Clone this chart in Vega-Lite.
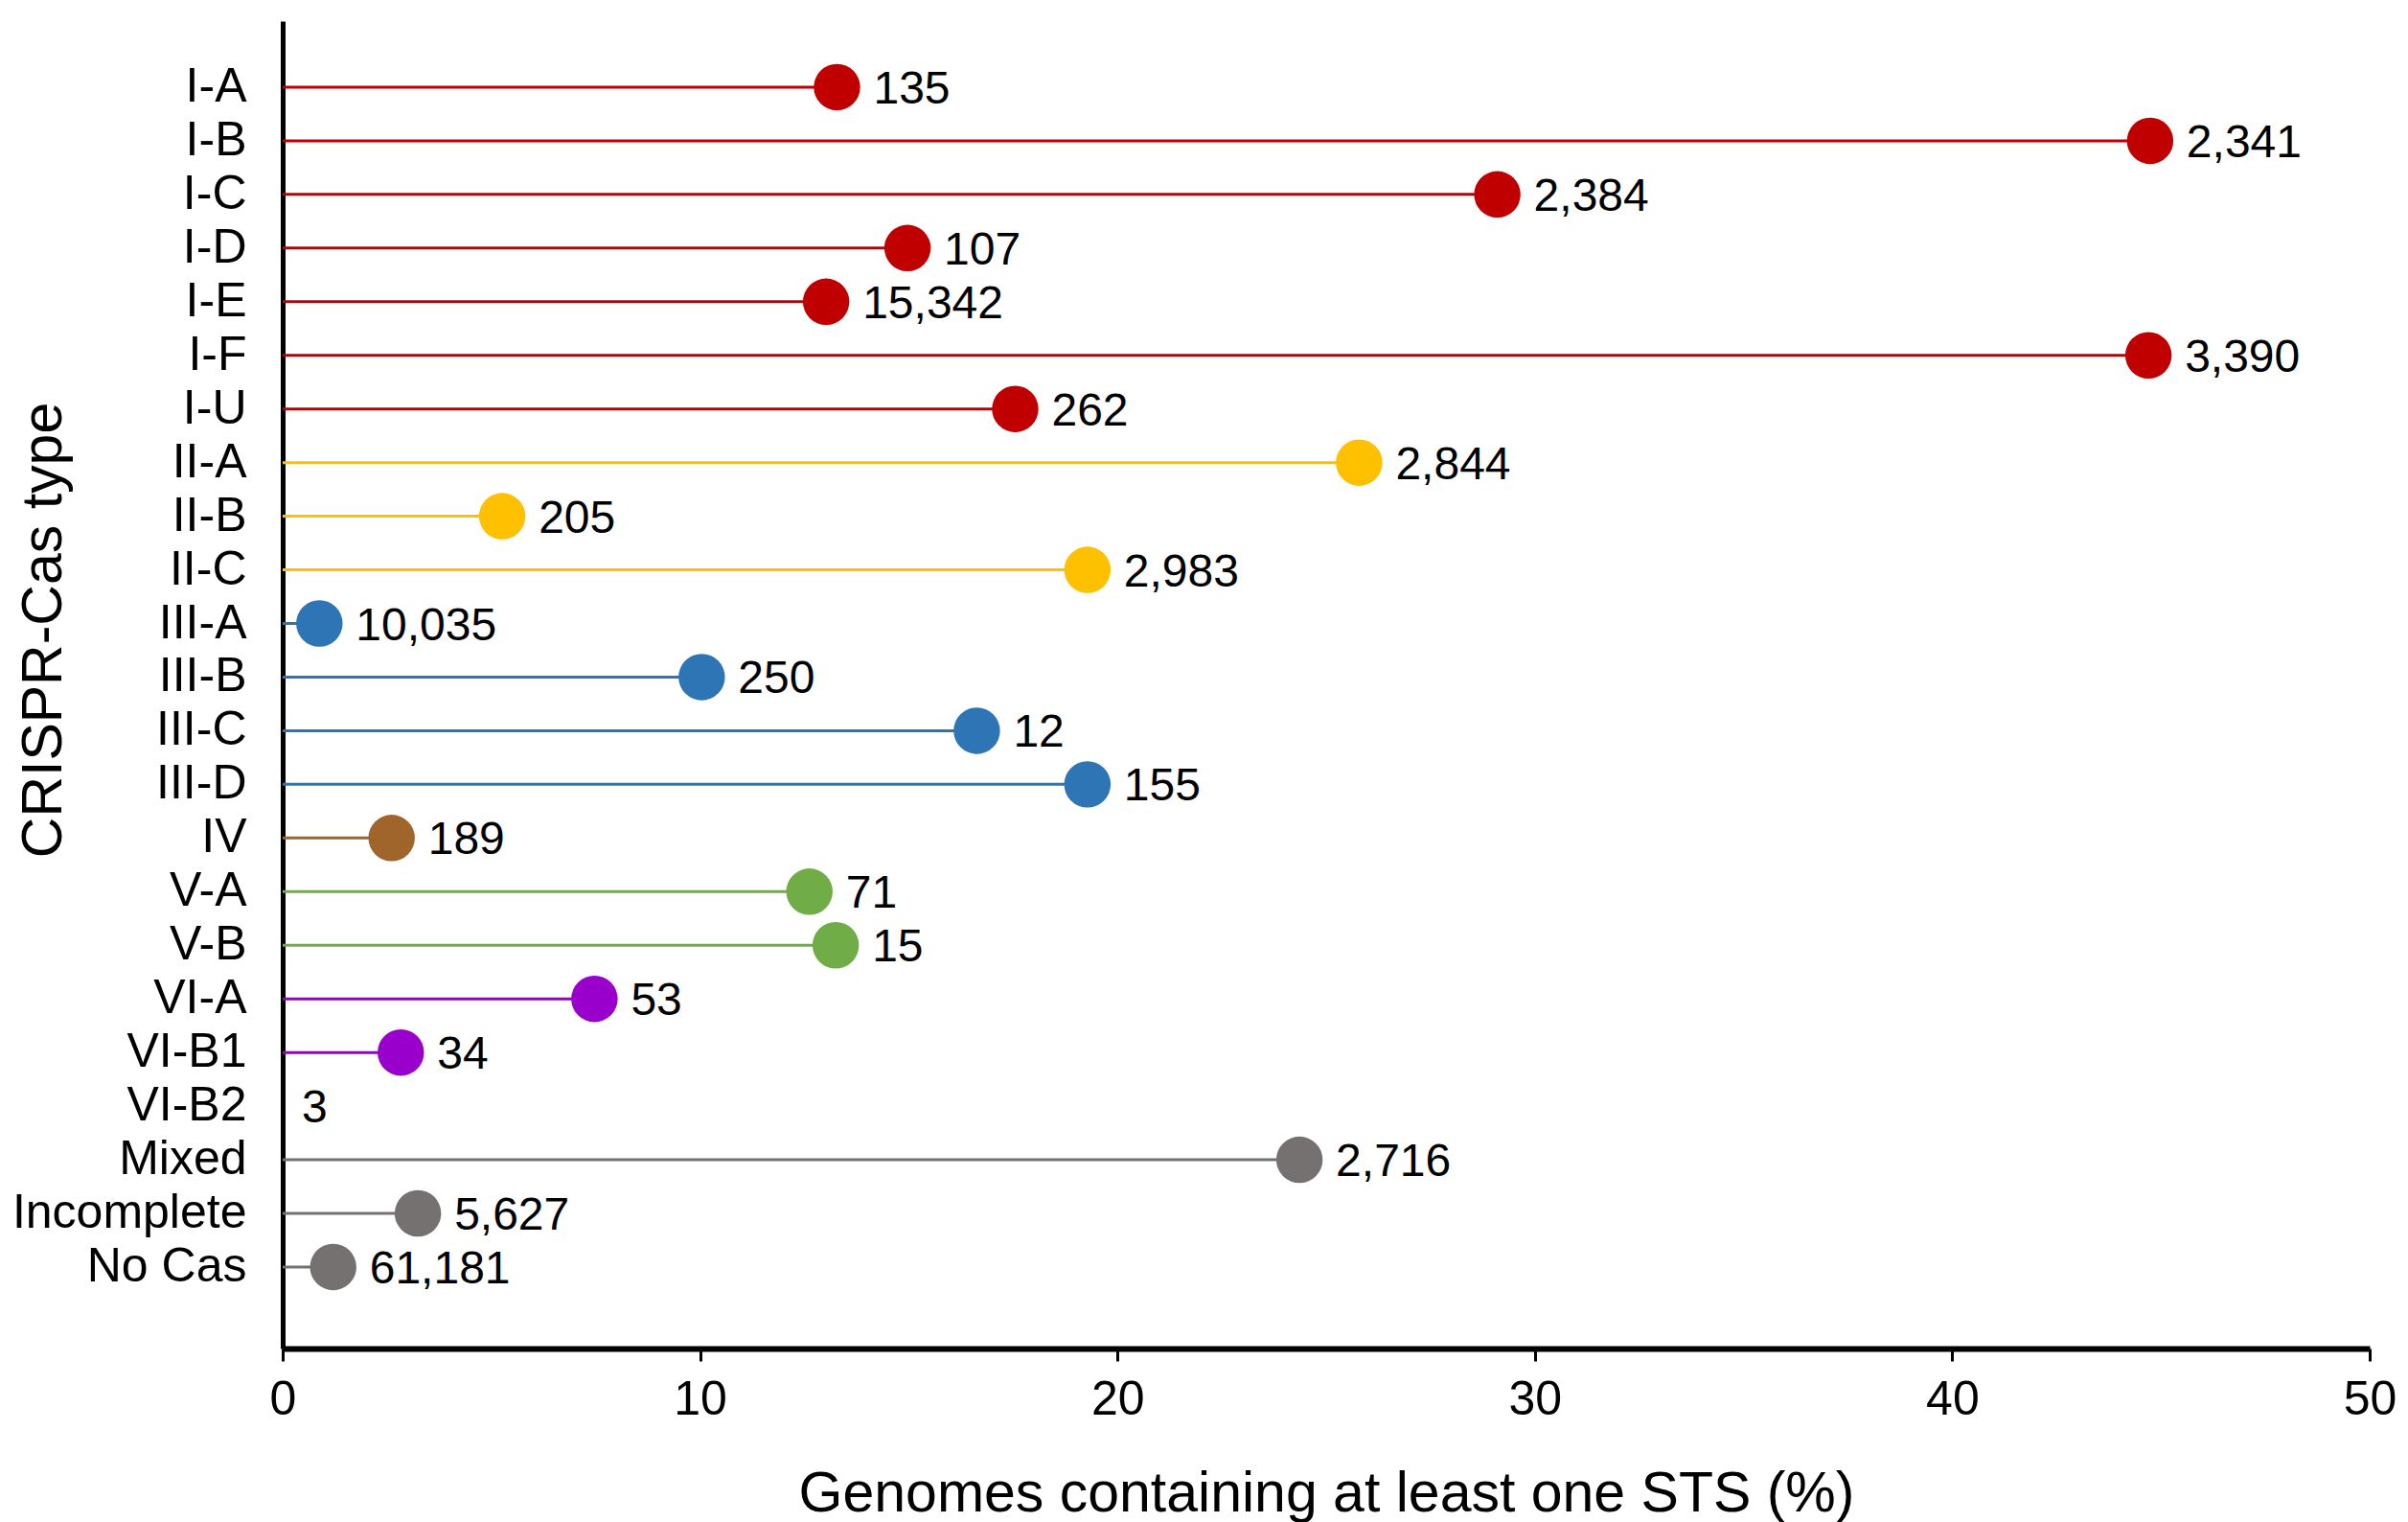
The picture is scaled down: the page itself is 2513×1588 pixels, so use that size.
{
  "$schema": "https://vega.github.io/schema/vega-lite/v6.json",
  "width": 2178,
  "height": 1385,
  "autosize": {"type": "none"},
  "padding": {"left": 295, "top": 22, "right": 40, "bottom": 181},
  "background": "white",
  "config": {
    "view": {"stroke": null},
    "font": "Liberation Sans",
    "axis": {"grid": false, "labelColor": "black", "titleColor": "black", "titleFontWeight": "normal", "labelFont": "Liberation Sans", "titleFont": "Liberation Sans"}
  },
  "data": {
    "values": [
      {"type": "I-A", "group": "I", "pct": 13.28, "count": 135},
      {"type": "I-B", "group": "I", "pct": 44.74, "count": 2341},
      {"type": "I-C", "group": "I", "pct": 29.1, "count": 2384},
      {"type": "I-D", "group": "I", "pct": 14.97, "count": 107},
      {"type": "I-E", "group": "I", "pct": 13.02, "count": 15342},
      {"type": "I-F", "group": "I", "pct": 44.7, "count": 3390},
      {"type": "I-U", "group": "I", "pct": 17.55, "count": 262},
      {"type": "II-A", "group": "II", "pct": 25.79, "count": 2844},
      {"type": "II-B", "group": "II", "pct": 5.26, "count": 205},
      {"type": "II-C", "group": "II", "pct": 19.28, "count": 2983},
      {"type": "III-A", "group": "III", "pct": 0.88, "count": 10035},
      {"type": "III-B", "group": "III", "pct": 10.04, "count": 250},
      {"type": "III-C", "group": "III", "pct": 16.63, "count": 12},
      {"type": "III-D", "group": "III", "pct": 19.28, "count": 155},
      {"type": "IV", "group": "IV", "pct": 2.61, "count": 189},
      {"type": "V-A", "group": "V", "pct": 12.62, "count": 71},
      {"type": "V-B", "group": "V", "pct": 13.25, "count": 15},
      {"type": "VI-A", "group": "VI", "pct": 7.47, "count": 53},
      {"type": "VI-B1", "group": "VI", "pct": 2.83, "count": 34},
      {"type": "VI-B2", "group": "VI", "pct": 0, "count": 3},
      {"type": "Mixed", "group": "Other", "pct": 24.36, "count": 2716},
      {"type": "Incomplete", "group": "Other", "pct": 3.24, "count": 5627},
      {"type": "No Cas", "group": "Other", "pct": 1.21, "count": 61181}
    ]
  },
  "encoding": {
    "y": {
      "field": "type",
      "type": "nominal",
      "sort": null,
      "scale": {"type": "band", "paddingInner": 0, "paddingOuter": 0.876, "align": 0.418},
      "axis": {
        "title": "CRISPR-Cas type",
        "titleFontSize": 59,
        "titleAngle": -90,
        "titleAlign": "center",
        "titleBaseline": "middle",
        "titleX": -250,
        "titleY": 635,
        "labelFontSize": 50,
        "labelPadding": 38,
        "labelLimit": 0,
        "ticks": false,
        "domainColor": "black",
        "domainWidth": 5
      }
    },
    "color": {
      "field": "group",
      "type": "nominal",
      "legend": null,
      "scale": {
        "domain": ["I", "II", "III", "IV", "V", "VI", "Other"],
        "range": ["#C00000", "#FFC000", "#2E75B6", "#A0652B", "#70AD47", "#9900CC", "#767171"]
      }
    }
  },
  "layer": [
    {
      "mark": {"type": "rule", "strokeWidth": 3},
      "encoding": {
        "x": {
          "field": "pct",
          "type": "quantitative",
          "scale": {"domain": [0, 50], "nice": false},
          "axis": {
            "title": "Genomes containing at least one STS (%)",
            "titleFontSize": 59,
            "titlePadding": 44,
            "values": [0, 10, 20, 30, 40, 50],
            "labelFontSize": 50,
            "labelFlush": false,
            "labelPadding": 15,
            "tickSize": 13,
            "tickWidth": 3,
            "tickColor": "black",
            "domainColor": "black",
            "domainWidth": 6
          }
        },
        "x2": {"datum": 0}
      }
    },
    {
      "transform": [{"filter": "datum.pct > 0"}],
      "mark": {"type": "circle", "size": 2350, "opacity": 1},
      "encoding": {"x": {"field": "pct", "type": "quantitative"}}
    },
    {
      "transform": [{"filter": "datum.pct > 0"}],
      "mark": {"type": "text", "align": "left", "baseline": "middle", "dx": 38, "dy": 3, "fontSize": 48, "color": "black"},
      "encoding": {
        "x": {"field": "pct", "type": "quantitative"},
        "text": {"field": "count", "type": "quantitative", "format": ",d"},
        "color": {"value": "black"}
      }
    },
    {
      "transform": [{"filter": "datum.pct == 0"}],
      "mark": {"type": "text", "align": "left", "baseline": "middle", "dx": 20, "dy": 3, "fontSize": 48, "color": "black"},
      "encoding": {
        "x": {"field": "pct", "type": "quantitative"},
        "text": {"field": "count", "type": "quantitative", "format": ",d"},
        "color": {"value": "black"}
      }
    }
  ]
}
